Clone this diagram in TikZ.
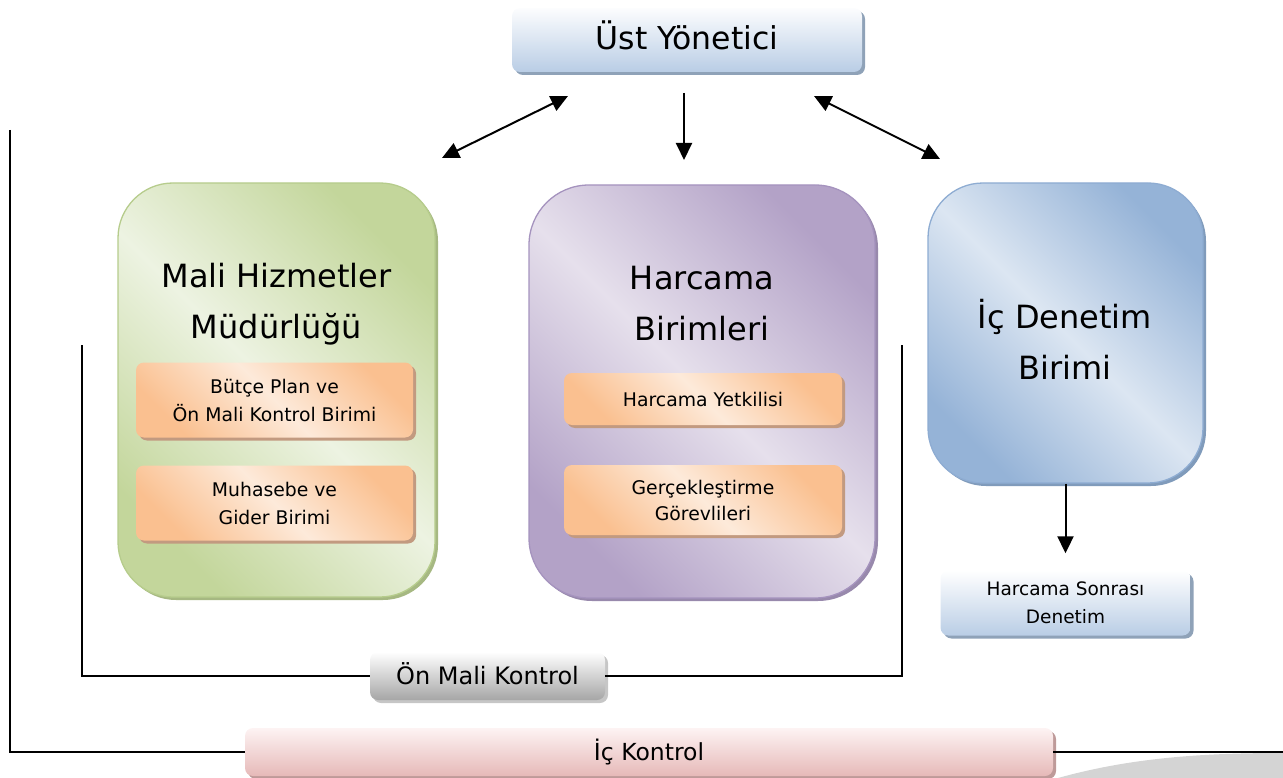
\documentclass[tikz,border=0pt]{standalone}
\usepackage{fontspec}
\setmainfont{DejaVu Sans}
\usetikzlibrary{arrows.meta,shadows}
\definecolor{gdark}{HTML}{C3D69B}
\definecolor{glight}{HTML}{EDF3E2}
\definecolor{gborder}{HTML}{B6CC8C}
\definecolor{pdark}{HTML}{B3A2C7}
\definecolor{plight}{HTML}{E6E0EC}
\definecolor{pborder}{HTML}{A593BE}
\definecolor{bdark}{HTML}{95B3D7}
\definecolor{blight}{HTML}{DCE6F2}
\definecolor{bborder}{HTML}{8EACD2}
\definecolor{odark}{HTML}{FAC090}
\definecolor{olight}{HTML}{FDEADA}
\definecolor{oshadow}{HTML}{C29A80}
\definecolor{ubot}{HTML}{B9CDE5}
\definecolor{ushadow}{HTML}{8FA2B8}
\definecolor{kbot}{HTML}{A6A6A6}
\definecolor{kshadow}{HTML}{C6C6C6}
\definecolor{rtop}{HTML}{FDF3F3}
\definecolor{rbot}{HTML}{E6B9B8}
\definecolor{rshadow}{HTML}{BE9A99}
\definecolor{arcgray}{HTML}{D4D4D4}
\begin{document}
\begin{tikzpicture}[x=1pt,y=-1pt,
  bigbox/.style n args={4}{rounded corners=#1, draw=#3, line width=1.3pt, inner sep=0pt,
    top color=#2, bottom color=#2, middle color=#4, shading angle=-45,
    drop shadow={shadow xshift=3pt, shadow yshift=-3pt, opacity=1, fill=#2!80!black!60!#3}},
  subbox/.style={rounded corners=8pt, inner sep=0pt, align=center,
    top color=odark, bottom color=odark, middle color=olight, shading angle=-45,
    drop shadow={shadow xshift=3pt, shadow yshift=-3pt, opacity=1, fill=oshadow},
    font=\fontsize{18.8}{28}\selectfont},
  vbox/.style n args={3}{rounded corners=8pt, inner sep=0pt, align=center,
    top color=#1, bottom color=#2,
    drop shadow={shadow xshift=3pt, shadow yshift=-3pt, opacity=1, fill=#3}},
  title/.style={align=center, inner sep=0pt, font=\fontsize{32}{51}\selectfont},
  arr/.style={line width=2pt, -{Triangle[length=17pt,width=16pt]}},
  darr/.style={line width=2pt, {Triangle[length=17pt,width=16pt]}-{Triangle[length=17pt,width=16pt]}},
  bline/.style={line width=2pt}
]
\useasboundingbox (0,0) rectangle (1283,778);
% decorative arc
\fill[arcgray] (1058,778) .. controls (1130,758) and (1200,753) .. (1283,753) -- (1283,778) -- cycle;

% top box
\node[vbox={white!96!ubot}{ubot}{ushadow}, minimum width=350pt, minimum height=64pt,
  font=\fontsize{31.5}{36}\selectfont, text height=22pt, text depth=2pt] (ust) at (687,40) {Üst Yönetici};

% main boxes
\node[bigbox={55pt}{gdark}{gborder}{glight}, minimum width=317pt, minimum height=414pt] (mhm) at (276.5,390) {};
\node[title] (mhmt) at (276.5,304) {Mali Hizmetler\\Müdürlüğü};
\node[subbox, minimum width=277pt, minimum height=75pt] (bp) at (274.5,400) {Bütçe Plan ve\\Ön Mali Kontrol Birimi};
\node[subbox, minimum width=277pt, minimum height=75pt] (mg) at (274.5,503) {Muhasebe ve\\Gider Birimi};

\node[bigbox={60pt}{pdark}{pborder}{plight}, minimum width=346pt, minimum height=413pt] (hb) at (702,391.5) {};
\node[title] (hbt) at (702,304) {Harcama\\Birimleri};
\node[subbox, minimum width=278pt, minimum height=52pt] (hy) at (703,399) {Harcama Yetkilisi};
\node[subbox, minimum width=278pt, minimum height=70pt, font=\fontsize{18.8}{26}\selectfont] (gg) at (703,500) {Gerçekleştirme\\Görevlileri};

\node[bigbox={55pt}{bdark}{bborder}{blight}, minimum width=275pt, minimum height=300pt] (ide) at (1065.5,333) {};
\node[title] (idet) at (1065,339) {İç Denetim\\Birimi};

\node[vbox={white}{ubot}{ushadow}, minimum width=250pt, minimum height=65pt,
  font=\fontsize{18.5}{28}\selectfont] (hsd) at (1065.5,603) {Harcama Sonrası\\Denetim};

% bottom control boxes
\node[vbox={white}{kbot}{kshadow}, minimum width=235pt, minimum height=48pt,
  font=\fontsize{24}{28}\selectfont, text height=17.5pt, text depth=0pt] (omk) at (487.5,676) {Ön Mali Kontrol};
\node[vbox={rtop}{rbot}{rshadow}, minimum width=808pt, minimum height=48pt,
  font=\fontsize{23.5}{28}\selectfont, text height=17pt, text depth=0pt] (ick) at (649,752) {İç Kontrol};

% arrows
\coordinate (l1) at (442,158); \coordinate (l2) at (568,96);
\coordinate (m1) at (684,93);  \coordinate (m2) at (684,160);
\coordinate (r1) at (814,96);  \coordinate (r2) at (940,159);
\draw[darr] (l1) -- (l2);
\draw[arr] (m1) -- (m2);
\draw[darr] (r1) -- (r2);
\draw[arr] (ide.south) -- ([yshift=17pt]hsd.north);

% brackets
\coordinate (b1) at (82,345); \coordinate (b2) at (902,345);
\draw[bline] (b1) |- (omk.west);
\draw[bline] (omk.east) -| (b2);
\coordinate (c1) at (10,130); \coordinate (c2) at (1283,752);
\draw[bline] (c1) |- (ick.west);
\draw[bline] (ick.east) -- (c2);
\end{tikzpicture}
\end{document}
